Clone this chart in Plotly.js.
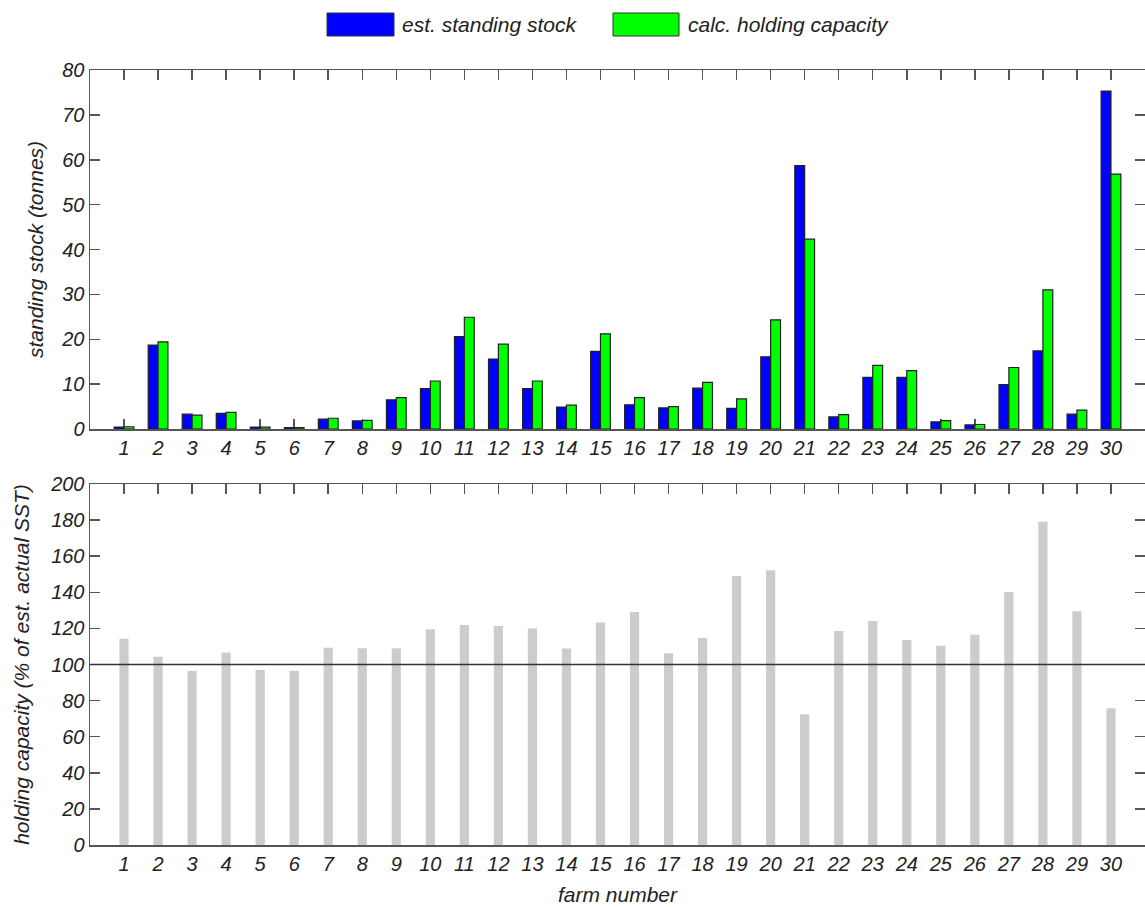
<!DOCTYPE html>
<html>
<head>
<meta charset="utf-8">
<script src="https://cdn.plot.ly/plotly-3.0.1.min.js"></script>
<style>html,body{margin:0;padding:0;background:#fff;}#chart{width:1145px;height:907px;}</style>
</head>
<body>
<div id="chart"></div>
<script>
// ---- data ----
const farms = [1,2,3,4,5,6,7,8,9,10,11,12,13,14,15,16,17,18,19,20,21,22,23,24,25,26,27,28,29,30];
const standingStock = [0.45,18.7,3.3,3.5,0.45,0.3,2.2,1.8,6.5,9.0,20.6,15.6,9.0,4.9,17.3,5.4,4.7,9.1,4.6,16.1,58.7,2.7,11.5,11.5,1.6,0.9,9.9,17.4,3.3,75.3];
const holdingCapacity = [0.5,19.4,3.1,3.7,0.4,0.3,2.4,1.9,7.0,10.7,24.9,18.9,10.7,5.3,21.2,7.0,5.0,10.4,6.7,24.3,42.3,3.2,14.2,13.0,1.85,1.0,13.7,31.0,4.2,56.8];
const capacityPct = [114.3,104.3,96.6,106.7,97.0,96.6,109.3,109.0,109.0,119.5,121.9,121.3,119.9,108.8,123.2,129.1,106.2,114.7,149.0,152.2,72.4,118.6,124.1,113.6,110.4,116.5,140.2,179.1,129.5,75.7];
const seriesNames = ['est. standing stock', 'calc. holding capacity'];
const referenceLevel = 100;

// ---- layout geometry (pixels) ----
const W = 1145, H = 907;
const M = {l: 90, r: 0, t: 70, b: 62};
const plotW = W - M.l - M.r, plotH = H - M.t - M.b;
const px2x = p => (p - M.l) / plotW;
const px2y = p => (H - M.b - p) / plotH;

const FONT = '"Liberation Sans", Arial, sans-serif';
const tickFont = {family: FONT, size: 20, style: 'italic', color: '#222'};
const titleFont = {family: FONT, size: 21, style: 'italic', color: '#222'};

const axisCommon = {
  showline: true, linecolor: '#555', linewidth: 1.5, mirror: 'ticks',
  ticks: 'inside', ticklen: 10, tickwidth: 1.5, tickcolor: '#555',
  showgrid: false, zeroline: false, tickfont: tickFont, automargin: false,
  layer: 'below traces'
};

const traces = [
  {type: 'bar', x: farms, y: standingStock, name: seriesNames[0], xaxis: 'x', yaxis: 'y',
   marker: {color: '#0000ff', line: {color: '#222', width: 1.2}}, showlegend: false},
  {type: 'bar', x: farms, y: holdingCapacity, name: seriesNames[1], xaxis: 'x', yaxis: 'y',
   marker: {color: '#00ff00', line: {color: '#222', width: 1.2}}, showlegend: false},
  {type: 'bar', x: farms, y: capacityPct, name: 'holding capacity (%)', xaxis: 'x2', yaxis: 'y2',
   width: 0.27, marker: {color: '#cccccc', line: {width: 0}}, showlegend: false}
];

const legendBoxes = [
  {x0: 327, x1: 394, color: '#0000ff', textX: 400, label: seriesNames[0]},
  {x0: 613, x1: 679, color: '#00ff00', textX: 686, label: seriesNames[1]}
];

const shapes = [
  {type: 'line', xref: 'x2 domain', yref: 'y2', x0: 0, x1: 1, y0: referenceLevel, y1: referenceLevel,
   line: {color: '#333', width: 1.5}, layer: 'above'}
];
const annotations = [];
legendBoxes.forEach(b => {
  shapes.push({type: 'rect', xref: 'paper', yref: 'paper',
    x0: px2x(b.x0), x1: px2x(b.x1), y0: px2y(36), y1: px2y(13),
    fillcolor: b.color, line: {color: '#333', width: 1}});
  annotations.push({xref: 'paper', yref: 'paper', x: px2x(b.textX), y: px2y(24),
    xanchor: 'left', yanchor: 'middle', showarrow: false, text: b.label, font: titleFont});
});

const layout = {
  width: W, height: H, margin: M,
  paper_bgcolor: '#fff', plot_bgcolor: '#fff',
  barmode: 'group', bargap: 0.42, bargroupgap: 0,
  showlegend: false,
  xaxis: Object.assign({}, axisCommon, {domain: [0, 1], range: [0, 31], tickvals: farms, anchor: 'y'}),
  yaxis: Object.assign({}, axisCommon, {domain: [px2y(429), 1], range: [0, 80], dtick: 10, anchor: 'x',
    title: {text: 'standing stock (tonnes)', font: titleFont, standoff: 12}}),
  xaxis2: Object.assign({}, axisCommon, {domain: [0, 1], range: [0, 31], tickvals: farms, anchor: 'y2',
    title: {text: 'farm number', font: titleFont, standoff: 14}}),
  yaxis2: Object.assign({}, axisCommon, {domain: [0, px2y(484)], range: [0, 200], dtick: 20, anchor: 'x2',
    title: {text: 'holding capacity (% of est. actual SST)', font: titleFont, standoff: 15}}),
  shapes: shapes,
  annotations: annotations
};

Plotly.newPlot('chart', traces, layout, {displayModeBar: false, staticPlot: true});
</script>
</body>
</html>
